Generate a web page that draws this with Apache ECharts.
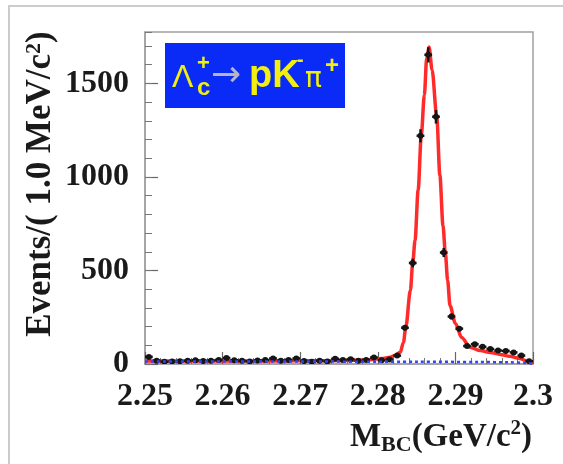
<!DOCTYPE html>
<html><head><meta charset="utf-8">
<script src="https://cdn.jsdelivr.net/npm/echarts@6/dist/echarts.min.js"></script>
<style>html,body{margin:0;padding:0;background:#fff}#c{width:563px;height:464px}</style>
</head><body><div id="c"></div>
<script>
// ---- data ----
const binCenters = [2.2505,2.2515,2.2525,2.2535,2.2545,2.2555,2.2565,2.2575,2.2585,2.2595,
  2.2605,2.2615,2.2625,2.2635,2.2645,2.2655,2.2665,2.2675,2.2685,2.2695,
  2.2705,2.2715,2.2725,2.2735,2.2745,2.2755,2.2765,2.2775,2.2785,2.2795,
  2.2805,2.2815,2.2825,2.2835,2.2845,2.2855,2.2865,2.2875,2.2885,2.2895,
  2.2905,2.2915,2.2925,2.2935,2.2945,2.2955,2.2965,2.2975,2.2985,2.2995];
const counts = [38,18,12,14,15,17,20,16,18,22,
  32,20,17,14,19,21,30,18,22,30,
  16,12,18,14,28,22,26,17,22,35,
  20,24,45,194,540,1220,1653,1322,596,254,
  189,96,106,92,80,72,70,62,45,15];
const errs = [6.2,4.2,3.5,3.7,3.9,4.1,4.5,4.0,4.2,4.7,
  5.7,4.5,4.1,3.7,4.4,4.6,5.5,4.2,4.7,5.5,
  4.0,3.5,4.2,3.7,5.3,4.7,5.1,4.1,4.7,5.9,
  4.5,4.9,6.7,13.9,23.2,34.9,40.7,36.4,24.4,15.9,
  13.7,9.8,10.3,9.6,8.9,8.5,8.4,7.9,6.7,3.9];
const fitMass = [2.2500,2.2600,2.2700,2.2760,2.2790,2.2805,2.2816,2.2822,2.2829,2.2833,
  2.2836,2.2842,2.2845,2.2848,2.2852,2.2856,2.2860,2.2863,2.2866,2.2870,
  2.2876,2.2880,2.2884,2.2887,2.2890,2.2893,2.2900,2.2908,2.2919,2.2932,
  2.2945,2.2958,2.2970,2.2983,2.2992,2.3000];
const fitVal = [16,16,17,19,23,29,36,45,63,115,
  194,394,539,662,930,1221,1438,1636,1695,1572,
  1321,1009,741,596,447,313,217,142,90,72,
  62,51,41,29,16,3];
const bkgMass = [2.2500,2.2700,2.2850,2.2930,2.2970,2.2990,2.3000];
const bkgVal = [13,13,12,11,9,6,2];
const xTickLabels = ['2.25','2.26','2.27','2.28','2.29','2.3'];
const yTickLabels = ['0','500','1000','1500'];

const chart = echarts.init(document.getElementById('c'), null, {renderer:'canvas'});
const serif = 'Liberation Serif';
const tickLabelStyle = {fontFamily: serif, fontWeight: 'bold', fontSize: 32, color: '#1a1a1a'};

const pts = binCenters.map((m, i) => [m, counts[i], errs[i]]);
const yel = '#f2ee10';

chart.setOption({
  animation: false,
  backgroundColor: '#fff',
  grid: {left: 145, right: 30, top: 32, bottom: 100, show: true, borderColor: '#a0a0a0', borderWidth: 1.5},
  xAxis: {
    type: 'value', min: 2.25, max: 2.3, interval: 0.01,
    axisLine: {show: true, lineStyle: {color: '#a0a0a0', width: 1.5}},
    axisTick: {show: true, inside: true, length: 12, lineStyle: {color: '#666', width: 1.2}},
    minorTick: {show: true, splitNumber: 5, length: 6, lineStyle: {color: '#777', width: 1}},
    splitLine: {show: false},
    axisLabel: Object.assign({margin: 17, showMinLabel: true, showMaxLabel: true,
      formatter: v => xTickLabels[Math.round((v - 2.25) / 0.01)] || ''}, tickLabelStyle)
  },
  yAxis: [{
    type: 'value', min: 0, max: 1775, interval: 500, position: 'left',
    axisLine: {show: true, lineStyle: {color: '#a0a0a0', width: 1.5}},
    axisTick: {show: true, inside: true, length: 13, lineStyle: {color: '#666', width: 1.2}},
    splitLine: {show: false},
    axisLabel: Object.assign({margin: 16, showMaxLabel: false,
      formatter: v => yTickLabels[Math.round(v / 500)] || ''}, tickLabelStyle)
  }, {
    type: 'value', min: 0, max: 1775, interval: 100, position: 'left', offset: 0,
    axisLine: {show: false},
    axisTick: {show: true, inside: true, length: 7, lineStyle: {color: '#777', width: 1}},
    splitLine: {show: false},
    axisLabel: {show: false}
  }],
  series: [
    {
      type: 'line', name: 'fit', data: fitMass.map((m, i) => [m, fitVal[i]]),
      smooth: 0.3, smoothMonotone: 'x', symbol: 'none', z: 2,
      lineStyle: {color: '#ff2a2a', width: 3.5}
    },
    {
      type: 'custom', name: 'data', z: 3, clip: true, data: pts,
      renderItem: function (params, api) {
        const x = api.value(0), y = api.value(1), e = api.value(2);
        const c = api.coord([x, y]);
        const l = api.coord([x - 0.0005, y]), r = api.coord([x + 0.0005, y]);
        const t = api.coord([x, y + e]), b = api.coord([x, Math.max(0, y - e)]);
        const st = {stroke: '#151515', lineWidth: 2.5};
        return {type: 'group', children: [
          {type: 'line', shape: {x1: l[0], y1: l[1], x2: r[0], y2: r[1]}, style: st},
          {type: 'line', shape: {x1: t[0], y1: t[1], x2: b[0], y2: b[1]}, style: st},
          {type: 'circle', shape: {cx: c[0], cy: c[1], r: 3}, style: {fill: '#151515'}}
        ]};
      }
    },
    {
      type: 'line', name: 'bkg', data: bkgMass.map((m, i) => [m, bkgVal[i]]),
      smooth: 0.3, smoothMonotone: 'x', symbol: 'none', z: 4,
      lineStyle: {color: '#3344ff', width: 2.5, type: [3, 3]}
    }
  ],
  graphic: [
    {type: 'rect', z: 0, silent: true, shape: {x: 9, y: 6, width: 620, height: 620},
      style: {fill: 'none', stroke: '#cccccc', lineWidth: 2}},
    {type: 'rect', z: 10, shape: {x: 165, y: 43, width: 180, height: 65},
      style: {fill: '#0a2af5'}},
    {type: 'text', z: 11, x: 172, y: 78, style: {text: 'Λ', fill: yel,
      font: 'normal 32px "Liberation Sans"', verticalAlign: 'middle'}},
    {type: 'text', z: 11, x: 197, y: 64, style: {text: '+', fill: yel,
      font: 'bold 22px "Liberation Sans"', verticalAlign: 'middle'}},
    {type: 'text', z: 11, x: 197, y: 88, style: {text: 'c', fill: yel,
      font: 'bold 24px "Liberation Sans"', verticalAlign: 'middle'}},
    {type: 'text', z: 11, x: 211, y: 77, style: {text: '→', fill: '#b4b4c4',
      font: 'normal 36px "DejaVu Sans"', verticalAlign: 'middle'}},
    {type: 'text', z: 11, x: 249, y: 77, style: {text: 'pK', fill: yel,
      font: 'bold 38px "Liberation Sans"', verticalAlign: 'middle'}},
    {type: 'text', z: 11, x: 297, y: 60, style: {text: '-', fill: yel,
      font: 'bold 20px "Liberation Sans"', verticalAlign: 'middle'}},
    {type: 'text', z: 11, x: 305, y: 80, style: {text: 'π', fill: yel,
      font: 'normal 28px "DejaVu Sans"', verticalAlign: 'middle'}},
    {type: 'text', z: 11, x: 325, y: 66, style: {text: '+', fill: yel,
      font: 'bold 24px "Liberation Sans"', verticalAlign: 'middle'}},
    {type: 'text', z: 11, x: 41, y: 184, rotation: Math.PI / 2,
      style: {text: 'Events/( 1.0 MeV/c{p|2})', align: 'center', verticalAlign: 'middle',
        fill: '#1a1a1a', font: 'bold 35px "Liberation Serif"',
        rich: {p: {fontFamily: serif, fontWeight: 'bold', fontSize: 22, verticalAlign: 'top', lineHeight: 14, fill: '#1a1a1a'}}}},
    {type: 'text', z: 11, x: 441, y: 437,
      style: {text: '{m|M}{s|BC}{m|(GeV/c}{p|2}{m|)}', align: 'center', verticalAlign: 'middle',
        rich: {
          m: {fontFamily: serif, fontWeight: 'bold', fontSize: 33, lineHeight: 38, fill: '#1a1a1a'},
          s: {fontFamily: serif, fontWeight: 'bold', fontSize: 22, lineHeight: 12, verticalAlign: 'bottom', fill: '#1a1a1a'},
          p: {fontFamily: serif, fontWeight: 'bold', fontSize: 21, lineHeight: 14, verticalAlign: 'top', fill: '#1a1a1a'}
        }}}
  ]
});
</script>
</body></html>
